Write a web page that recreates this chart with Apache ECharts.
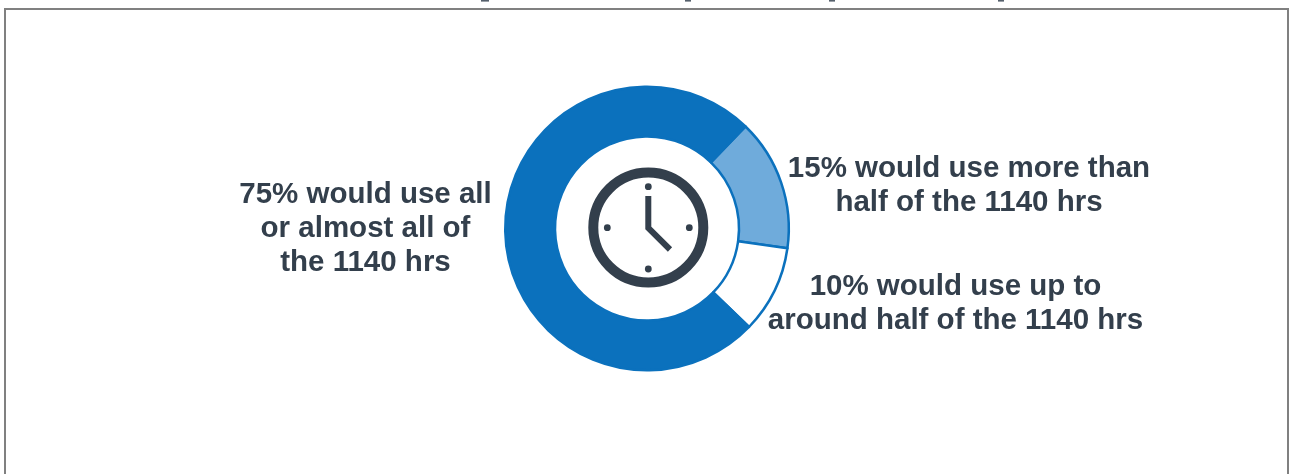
<!DOCTYPE html>
<html>
<head>
<meta charset="utf-8">
<style>html,body{margin:0;padding:0;background:#fff}#chart{width:1289px;height:474px}</style>
<script src="https://cdn.jsdelivr.net/npm/echarts@6/dist/echarts.min.js"></script>
</head>
<body>
<div id="chart"></div>
<script>
// Share of the 1140 hours people say they would use
const shareLabels = [
  '15% would use more than\nhalf of the 1140 hrs',
  '10% would use up to\naround half of the 1140 hrs',
  '75% would use all\nor almost all of\nthe 1140 hrs'
];
const shareValues = [15, 10, 75];
const sliceColors = ['#6FABDB', '#FFFFFF', '#0B71BD'];
const labelAnchors = [[969, 186], [955.5, 304], [365.5, 229]];

const ink = '#333F4C';
const center = [647, 228.5];

// Clock face drawn in the hole of the donut
const tickDots = [[648.3, 186.7], [648.3, 269], [607.3, 227.7], [689.3, 227.7]];
const clockParts = [
  { type: 'circle', shape: { cx: 648.3, cy: 227.5, r: 55 },
    style: { fill: '#fff', stroke: ink, lineWidth: 10 } },
  { type: 'polyline', shape: { points: [[648.3, 196], [648.3, 228], [670, 249.5]] },
    style: { fill: null, stroke: ink, lineWidth: 6, lineJoin: 'miter', lineCap: 'butt' } }
].concat(tickDots.map(p => ({
  type: 'circle', shape: { cx: p[0], cy: p[1], r: 3.4 }, style: { fill: ink }
})));

// Tips of the heading's descenders, left over where the top edge cuts it off
const headingTips = [[481, 8], [685, 6], [829, 6], [998, 6]];
const tipParts = headingTips.map(t => ({
  type: 'rect', shape: { x: t[0], y: 0, width: t[1], height: 1.6 }, style: { fill: '#55606C' }
}));

const chart = echarts.init(document.getElementById('chart'), null, { renderer: 'canvas' });
chart.setOption({
  backgroundColor: '#fff',
  animation: false,
  graphic: [
    { type: 'rect', z: 0, shape: { x: 5, y: 9, width: 1283, height: 480 },
      style: { fill: 'none', stroke: '#808080', lineWidth: 2 } },
    ...tipParts,
    ...clockParts.map(p => ({ ...p, z: 10 }))
  ],
  series: [{
    type: 'pie',
    center: center,
    radius: [92, 141.8],
    startAngle: 46,
    clockwise: true,
    silent: true,
    itemStyle: { borderColor: '#0B71BD', borderWidth: 2.5 },
    label: {
      show: true, position: 'outside', formatter: '{b}',
      fontFamily: '"Liberation Sans", Arial, sans-serif',
      fontWeight: 'bold', fontSize: 29.5, lineHeight: 34, color: ink, align: 'center'
    },
    labelLine: { show: false },
    labelLayout: params => {
      const a = labelAnchors[params.dataIndex];
      return { x: a[0], y: a[1], align: 'center', verticalAlign: 'middle' };
    },
    data: shareValues.map((v, i) => ({
      value: v, name: shareLabels[i], itemStyle: { color: sliceColors[i] }
    }))
  }]
});
</script>
</body>
</html>
